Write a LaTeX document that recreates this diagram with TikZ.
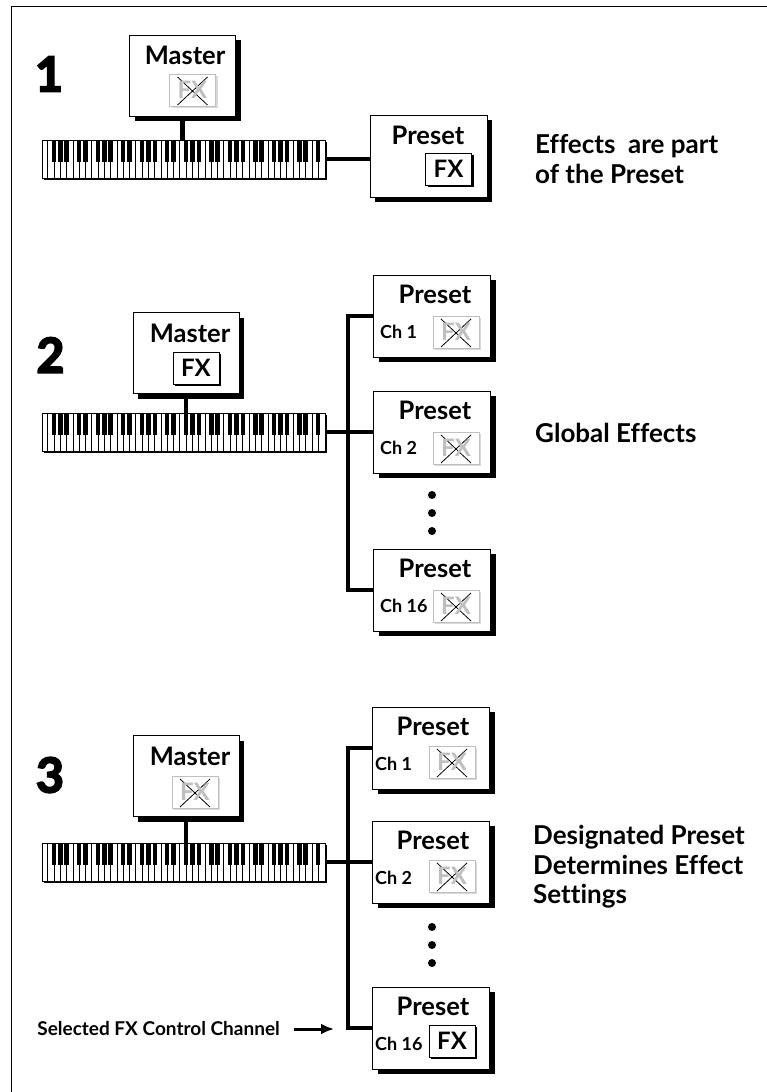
\documentclass[tikz,border=0pt]{standalone}
\usepackage{fontspec}
\setmainfont{Lato}[Ligatures=CommonOff]
\newfontfamily\heavyfont{Lato}[BoldFeatures={FakeBold=4}]
\usetikzlibrary{arrows.meta, shadows}

\tikzset{
  wire/.style={line width=4.5pt},
  pointer/.style={line width=3pt, -{Latex[length=13pt, width=11pt]}},
  bigbox/.style={draw, fill=white, line width=1pt, inner sep=0pt,
    drop shadow={shadow xshift=5pt, shadow yshift=-5pt, fill=black, opacity=1}},
  masterbox/.style={bigbox, minimum width=106pt, minimum height=81pt},
  presetbox/.style={bigbox, minimum width=117pt, minimum height=82pt},
  boxtitle/.style={font=\fontsize{25.5}{25.5}\selectfont\bfseries, inner sep=0pt},
  chlabel/.style={font=\fontsize{18}{18}\selectfont\bfseries, anchor=west, inner sep=0pt},
  fxon/.style={draw, fill=white, line width=1pt, minimum width=46pt, minimum height=32pt,
    inner sep=0pt, font=\fontsize{24}{24}\selectfont\bfseries,
    drop shadow={shadow xshift=2pt, shadow yshift=-2pt, fill=black, opacity=1}},
  fxoff/.style={draw=black!25, fill=white, line width=1pt, minimum width=46pt, minimum height=32pt,
    inner sep=0pt, text=black!25, font=\fontsize{24}{24}\selectfont\bfseries,
    drop shadow={shadow xshift=2pt, shadow yshift=-2pt, fill=black!15, opacity=1},
    path picture={\draw[black, line width=0.8pt]
      ([shift={(8pt,-3pt)}]path picture bounding box.north west) --
      ([shift={(-8pt,1pt)}]path picture bounding box.south east)
      ([shift={(-8pt,-3pt)}]path picture bounding box.north east) --
      ([shift={(8pt,1pt)}]path picture bounding box.south west);}},
  keyboard/.style={draw, fill=white, line width=1pt, minimum width=283pt, minimum height=38pt,
    inner sep=0pt, drop shadow={shadow xshift=2pt, shadow yshift=-2pt, fill=black, opacity=1}},
  busdot/.style={circle, fill, inner sep=0pt, minimum size=8pt},
  note/.style={font=\fontsize{26}{29.5}\selectfont\bfseries, align=left, anchor=west, inner sep=0pt},
  sellabel/.style={font=\fontsize{19}{19}\selectfont\bfseries, anchor=east, inner sep=0pt},
  sectionnum/.style={font=\fontsize{48}{48}\selectfont\heavyfont\bfseries, inner sep=0pt},
  % 76 keys, E to G: 45 white keys
  keys/.pic={
    \foreach \i in {1,...,44}
      \draw[line width=0.8pt] ({\i*283/45},0) -- ({\i*283/45},38);
    \foreach \i in {0,...,43} {
      \pgfmathtruncatemacro\tone{mod(\i+2,7)}
      \ifnum\tone=2 \else \ifnum\tone=6 \else
        \fill ({(\i+1)*283/45-2.2},0) rectangle ({(\i+1)*283/45+2.2},22);
      \fi\fi
    }
  }
}

\begin{document}
\begin{tikzpicture}[x=1pt, y=-1pt]
  \useasboundingbox (0,0) rectangle (767,1092);
  % Page frame
  \draw[line width=1pt] (11,1092) -- (11,6) -- (767,6);

  % 1: effects are part of the preset
  \node[sectionnum] (n1) at (49,74) {1};
  \node[masterbox] (m1) at (182.5,75.5) {};
  \node[boxtitle] (mt1) at (185,55) {Master};
  \node[fxoff] (mx1) at (192.5,90) {FX};
  \node[keyboard] (k1) at (183.5,159) {};
  \pic at (k1.north west) {keys};
  \node[presetbox] (p1) at (428.5,156) {};
  \node[boxtitle] (pt1) at (428,135) {Preset};
  \node[fxon] (px1) at (448.5,169) {FX};
  \node[note] (d1) at (535,159) {Effects\ \ are part\\of the Preset};
  \draw[wire] (m1.south) -- (m1.south |- k1.north);
  \draw[wire] (k1.east) -- (k1.east -| p1.west);

  % 2: global effects
  \node[sectionnum] (n2) at (50.5,355) {2};
  \node[masterbox] (m2) at (186,353) {};
  \node[boxtitle] (mt2) at (190,333) {Master};
  \node[fxon] (mx2) at (196,368) {FX};
  \node[keyboard] (k2) at (183.5,432) {};
  \pic at (k2.north west) {keys};
  \foreach \c/\y in {1/316, 2/432, 16/590} {
    \node[presetbox] (q\c) at (432,\y) {};
    \node[boxtitle] (qt\c) at (435,\y-22) {Preset};
    \node[chlabel] (qc\c) at (380,\y+16) {Ch \c};
    \node[fxoff] (qx\c) at (456,\y+16) {FX};
  }
  \foreach \d/\y in {a/495, b/513, c/531}
    \node[busdot] (qd\d) at (432,\y) {};
  \node[note] (d2) at (535,433) {Global Effects};
  \coordinate (b2) at (348,0);
  \draw[wire] (m2.south) -- (m2.south |- k2.north);
  \draw[wire] (k2.east) -- (q2.west);
  \draw[wire] (q1.west) -- (q1.west -| b2) -- (q16.west -| b2) -- (q16.west);

  % 3: designated preset determines effect settings
  \node[sectionnum] (n3) at (50,775) {3};
  \node[masterbox] (m3) at (186,776) {};
  \node[boxtitle] (mt3) at (190,756) {Master};
  \node[fxoff] (mx3) at (195,792) {FX};
  \node[keyboard] (k3) at (183.5,862) {};
  \pic at (k3.north west) {keys};
  \foreach \c/\y in {1/748, 2/862, 16/1028} {
    \node[presetbox] (r\c) at (431,\y) {};
    \node[boxtitle] (rt\c) at (433,\y-22) {Preset};
    \node[chlabel] (rc\c) at (375,\y+16) {Ch \c};
  }
  \node[fxoff] (rx1) at (452,762) {FX};
  \node[fxoff] (rx2) at (452,876) {FX};
  \node[fxon] (rx16) at (452,1041) {FX};
  \foreach \d/\y in {a/927, b/945, c/963}
    \node[busdot] (rd\d) at (432,\y) {};
  \node[note] (d3) at (533,867) {Designated Preset\\Determines Effect\\Settings};
  \coordinate (b3) at (348,0);
  \draw[wire] (m3.south) -- (m3.south |- k3.north);
  \draw[wire] (k3.east) -- (r2.west);
  \draw[wire] (r1.west) -- (r1.west -| b3) -- (r16.west -| b3) -- (r16.west);

  % Selected channel pointer
  \node[sellabel] (sel) at (280,1029) {Selected FX Control Channel};
  \coordinate (selend) at (334,1029);
  \draw[pointer] ([xshift=14pt]sel.east) -- (selend);
\end{tikzpicture}
\end{document}
